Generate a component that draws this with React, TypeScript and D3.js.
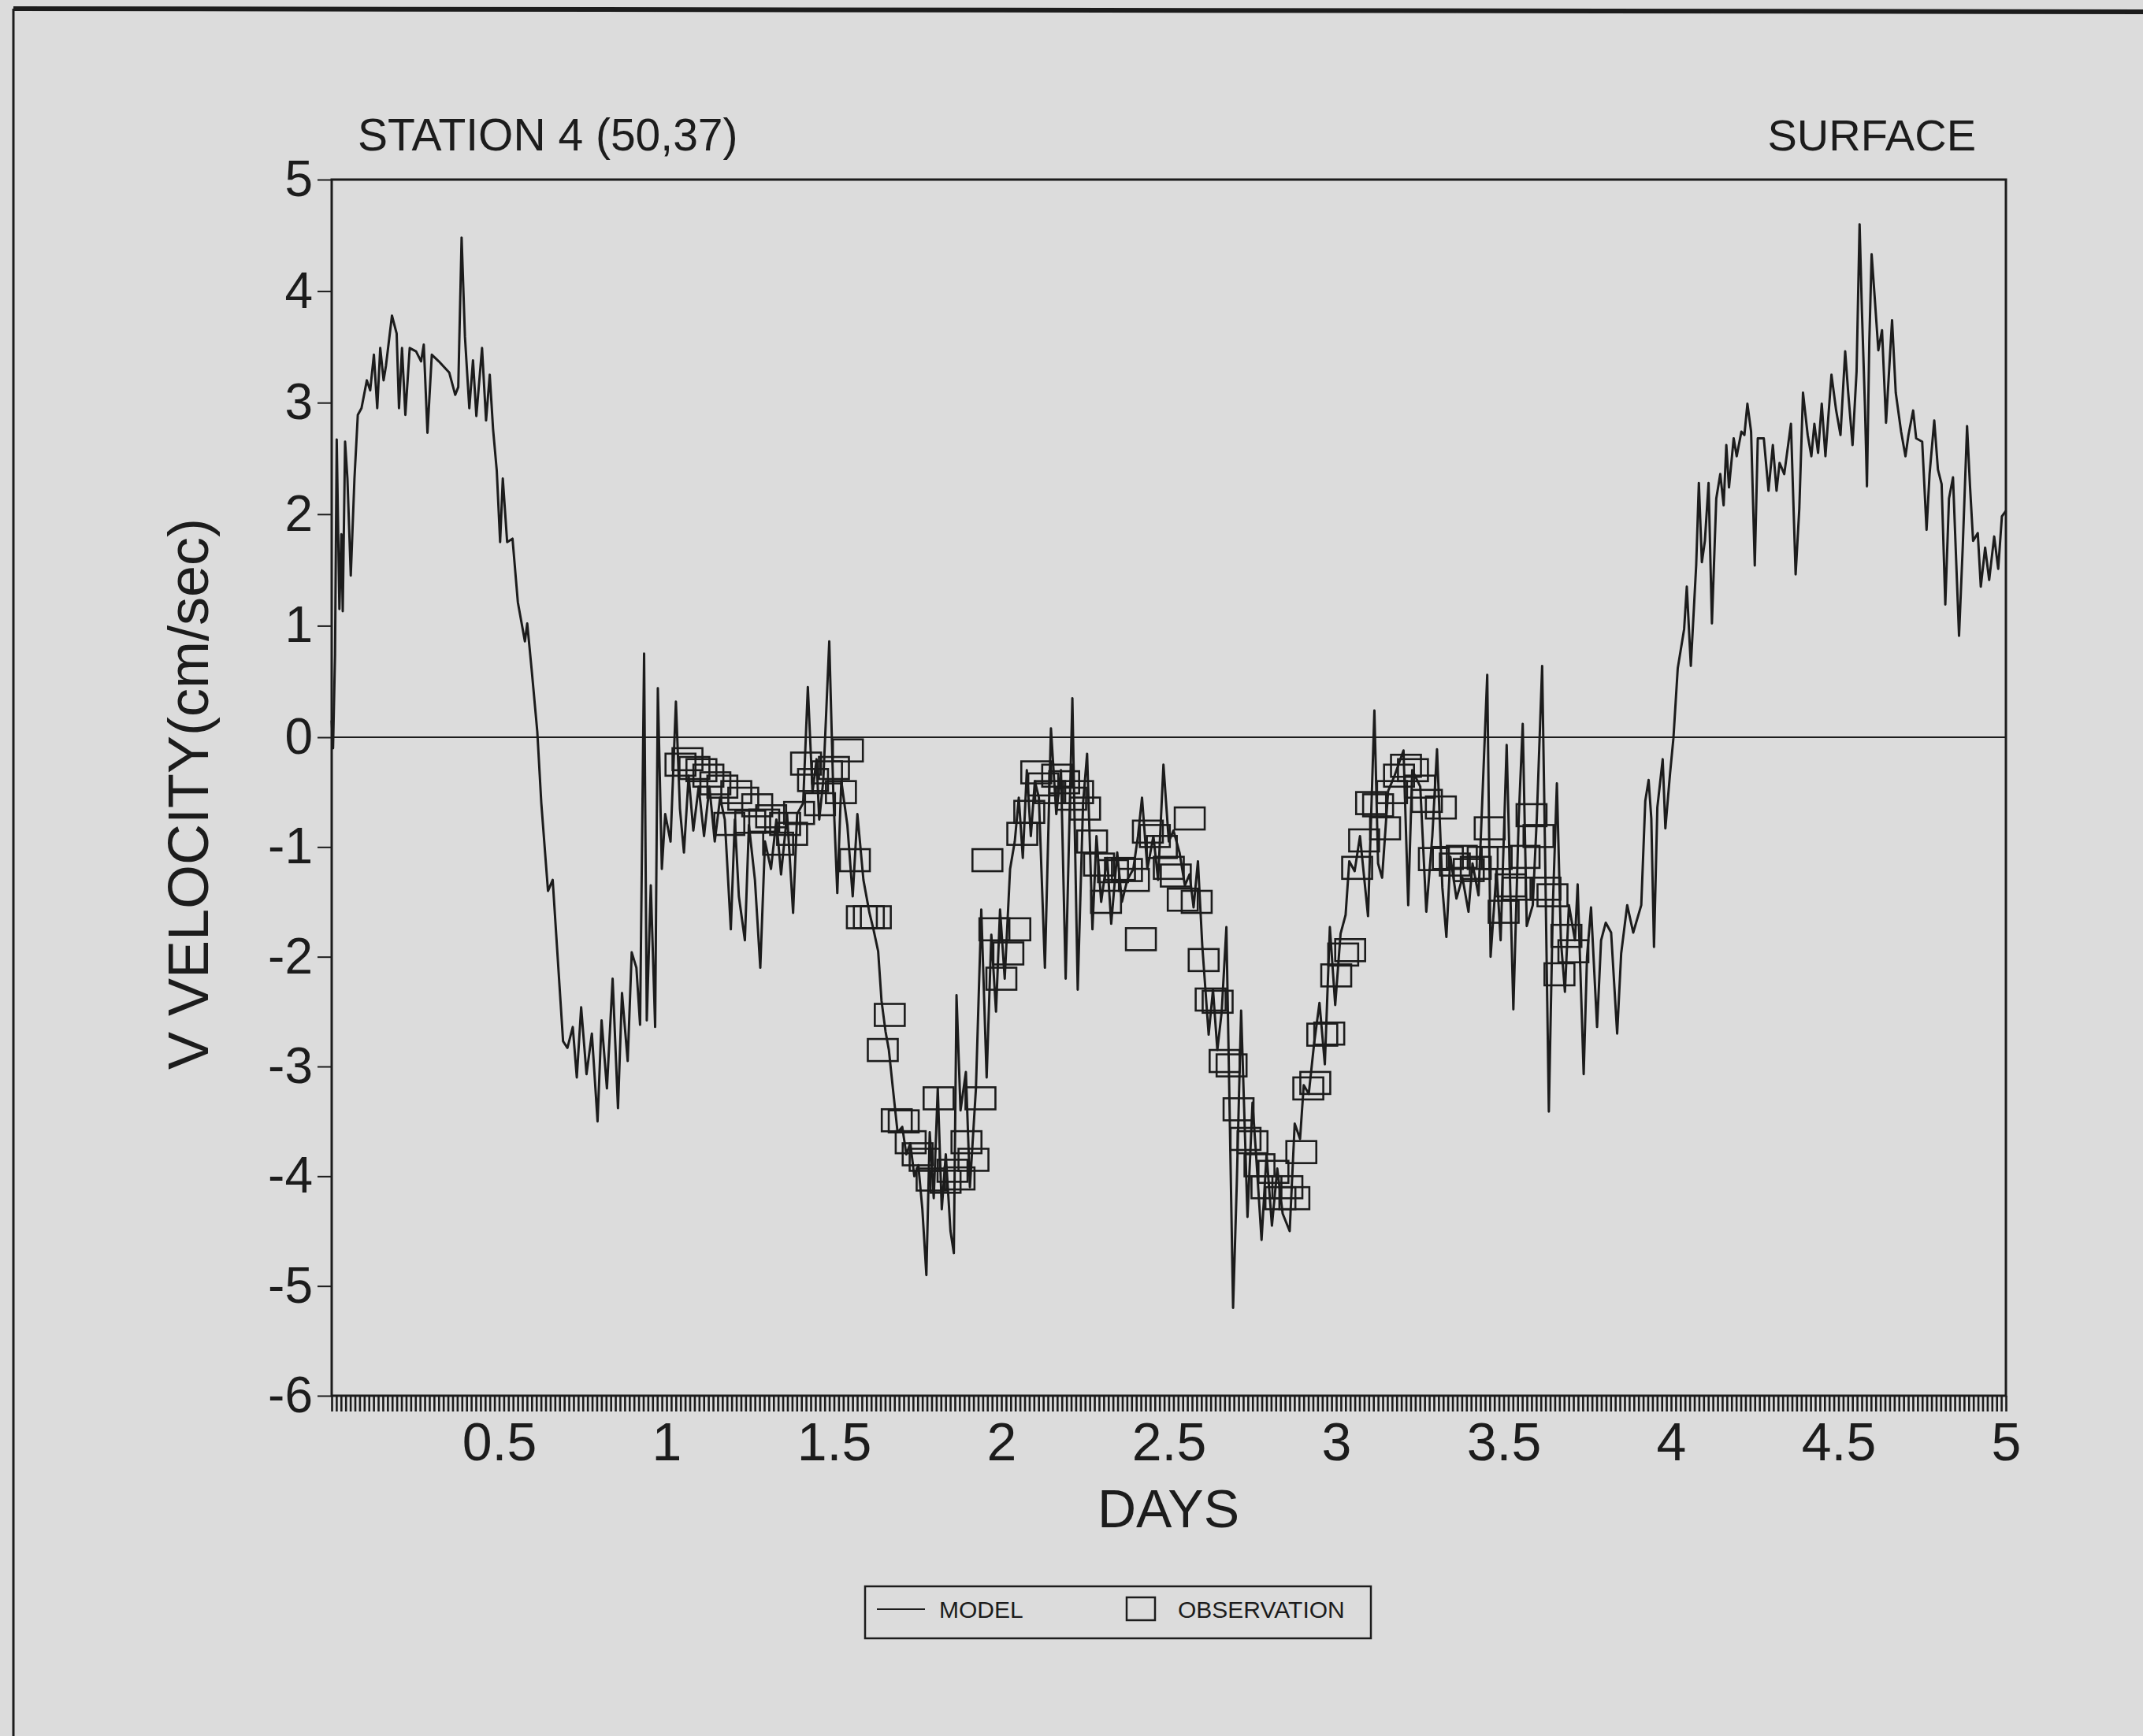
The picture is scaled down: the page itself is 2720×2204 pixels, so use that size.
import React, { useEffect, useRef } from "react";
import * as d3 from "d3";

// Model surface V velocity (cm/sec) at station 4, as [day, value]
const modelTrace: [number, number][] = [
  [0.0, 0.15], [0.004, -0.1], [0.01, 0.74], [0.015, 2.67], [0.023, 1.15], [0.029, 1.82], [0.033, 1.13],
  [0.04, 2.65], [0.047, 2.32], [0.057, 1.45], [0.068, 2.32], [0.078, 2.89], [0.089, 2.95], [0.105, 3.2],
  [0.115, 3.11], [0.126, 3.43], [0.136, 2.95], [0.145, 3.49], [0.155, 3.2], [0.162, 3.33], [0.18, 3.78],
  [0.194, 3.62], [0.201, 2.95], [0.21, 3.49], [0.22, 2.89], [0.233, 3.49], [0.252, 3.46], [0.267, 3.37],
  [0.275, 3.52], [0.286, 2.73], [0.299, 3.43], [0.32, 3.37], [0.351, 3.27], [0.369, 3.07], [0.378, 3.14],
  [0.388, 4.48], [0.398, 3.59], [0.411, 2.95], [0.422, 3.38], [0.432, 2.88], [0.449, 3.49], [0.461, 2.84],
  [0.472, 3.25], [0.482, 2.76], [0.493, 2.39], [0.503, 1.75], [0.511, 2.32], [0.524, 1.75], [0.54, 1.78],
  [0.556, 1.21], [0.577, 0.86], [0.584, 1.02], [0.598, 0.58], [0.614, 0.05], [0.626, -0.6], [0.646, -1.4],
  [0.66, -1.3], [0.679, -2.2], [0.691, -2.77], [0.704, -2.83], [0.72, -2.64], [0.732, -3.1], [0.745, -2.46],
  [0.761, -3.07], [0.777, -2.7], [0.794, -3.5], [0.806, -2.58], [0.822, -3.2], [0.839, -2.2], [0.855, -3.38],
  [0.867, -2.33], [0.884, -2.95], [0.896, -1.96], [0.91, -2.1], [0.921, -2.62], [0.933, 0.75], [0.941, -2.58],
  [0.953, -1.35], [0.966, -2.64], [0.974, 0.44], [0.986, -1.2], [0.996, -0.7], [1.012, -0.95], [1.028, 0.32], [1.04, -0.65],
  [1.052, -1.05], [1.066, -0.35], [1.08, -0.85], [1.096, -0.45], [1.112, -0.9], [1.128, -0.45], [1.144, -0.95],
  [1.16, -0.55], [1.174, -0.75], [1.192, -1.75], [1.204, -0.75], [1.216, -1.45], [1.234, -1.85], [1.246, -0.8],
  [1.264, -1.3], [1.28, -2.1], [1.294, -0.95], [1.312, -1.2], [1.328, -0.75], [1.342, -1.25], [1.36, -0.7],
  [1.378, -1.6], [1.39, -0.7], [1.408, -0.6], [1.422, 0.45], [1.436, -0.5], [1.448, -0.2], [1.456, -0.75],
  [1.468, -0.4], [1.486, 0.86], [1.498, -0.5], [1.51, -1.42], [1.522, -0.4], [1.54, -0.8], [1.556, -1.45],
  [1.57, -0.7], [1.588, -1.3], [1.606, -1.6], [1.618, -1.75], [1.632, -1.95], [1.642, -2.4], [1.654, -2.68],
  [1.664, -2.85], [1.676, -3.2], [1.69, -3.6], [1.704, -3.55], [1.716, -3.8], [1.728, -3.7], [1.74, -4.0],
  [1.752, -3.9], [1.764, -4.3], [1.776, -4.9], [1.786, -3.6], [1.798, -4.2], [1.81, -3.2], [1.822, -4.3],
  [1.834, -3.8], [1.848, -4.5], [1.858, -4.7], [1.866, -2.35], [1.878, -3.4], [1.894, -3.05], [1.906, -4.1],
  [1.924, -3.2], [1.94, -1.57], [1.956, -3.1], [1.97, -1.8], [1.984, -2.5], [1.996, -1.57], [2.01, -2.2],
  [2.026, -1.2], [2.04, -0.95], [2.052, -0.55], [2.064, -1.1], [2.076, -0.3], [2.088, -0.9], [2.1, -0.4],
  [2.112, -0.55], [2.13, -2.1], [2.148, 0.08], [2.164, -0.7], [2.178, -0.3], [2.192, -2.2], [2.212, 0.35],
  [2.228, -2.3], [2.244, -0.6], [2.256, -0.15], [2.272, -1.75], [2.284, -0.9], [2.298, -1.5], [2.316, -1.1],
  [2.328, -1.7], [2.346, -1.05], [2.36, -1.5], [2.376, -1.3], [2.394, -1.2], [2.408, -0.9], [2.42, -0.55],
  [2.436, -1.2], [2.454, -0.9], [2.468, -1.3], [2.484, -0.25], [2.5, -0.95], [2.514, -0.85], [2.532, -1.05],
  [2.548, -1.35], [2.562, -1.25], [2.574, -1.55], [2.587, -1.13], [2.6, -1.9], [2.619, -2.71], [2.632, -2.3],
  [2.645, -2.85], [2.658, -2.5], [2.672, -1.73], [2.68, -3.12], [2.692, -5.2], [2.703, -4.07], [2.716, -2.49],
  [2.735, -4.37], [2.75, -3.33], [2.761, -3.82], [2.777, -4.58], [2.792, -3.8], [2.808, -4.45], [2.824, -3.93],
  [2.84, -4.34], [2.861, -4.5], [2.876, -3.52], [2.892, -3.66], [2.903, -3.17], [2.918, -3.25], [2.934, -2.79],
  [2.95, -2.42], [2.966, -2.98], [2.981, -1.73], [2.997, -2.44], [3.013, -1.79], [3.028, -1.62], [3.039, -1.13],
  [3.055, -1.22], [3.071, -0.9], [3.095, -1.63], [3.107, -0.45], [3.114, 0.24], [3.125, -1.15], [3.137, -1.28],
  [3.155, -0.49], [3.173, -0.36], [3.201, -0.12], [3.215, -1.53], [3.227, -0.3], [3.251, -0.45], [3.269, -1.59],
  [3.287, -0.9], [3.301, -0.11], [3.317, -1.37], [3.329, -1.82], [3.341, -1.09], [3.359, -1.47], [3.377, -1.28],
  [3.395, -1.59], [3.407, -1.15], [3.425, -1.44], [3.451, 0.56], [3.461, -2.0], [3.479, -1.21], [3.491, -1.85],
  [3.509, -0.07], [3.521, -1.53], [3.529, -2.48], [3.545, -0.74], [3.557, 0.12], [3.569, -1.72], [3.587, -1.53],
  [3.599, -0.74], [3.615, 0.64], [3.623, -0.9], [3.635, -3.41], [3.647, -1.53], [3.659, -0.42], [3.671, -1.85],
  [3.683, -2.32], [3.695, -1.53], [3.713, -1.85], [3.721, -1.34], [3.739, -3.07], [3.749, -2.0], [3.761, -1.55],
  [3.779, -2.64], [3.791, -1.85], [3.805, -1.69], [3.821, -1.78], [3.839, -2.7], [3.851, -1.97], [3.869, -1.53],
  [3.887, -1.78], [3.911, -1.53], [3.923, -0.58], [3.933, -0.39], [3.941, -0.74], [3.949, -1.91], [3.959, -0.64],
  [3.975, -0.2], [3.983, -0.83], [3.997, -0.33], [4.007, -0.01], [4.02, 0.62], [4.039, 0.97], [4.047, 1.35],
  [4.059, 0.64], [4.075, 1.54], [4.083, 2.28], [4.092, 1.57], [4.101, 1.76], [4.112, 2.28], [4.122, 1.02],
  [4.135, 2.14], [4.147, 2.36], [4.157, 2.08], [4.165, 2.62], [4.173, 2.24], [4.187, 2.68], [4.196, 2.52],
  [4.21, 2.74], [4.219, 2.71], [4.228, 2.99], [4.239, 2.74], [4.25, 1.54], [4.259, 2.68], [4.277, 2.68],
  [4.291, 2.21], [4.304, 2.62], [4.315, 2.21], [4.324, 2.46], [4.338, 2.36], [4.358, 2.81], [4.372, 1.46],
  [4.383, 2.05], [4.394, 3.09], [4.408, 2.71], [4.419, 2.52], [4.428, 2.81], [4.439, 2.55], [4.45, 2.99],
  [4.461, 2.52], [4.479, 3.25], [4.493, 2.93], [4.506, 2.71], [4.52, 3.46], [4.529, 3.09], [4.542, 2.62],
  [4.554, 3.28], [4.563, 4.6], [4.57, 3.82], [4.579, 2.97], [4.585, 2.25], [4.592, 3.54], [4.599, 4.33],
  [4.608, 3.95], [4.619, 3.47], [4.63, 3.65], [4.642, 2.82], [4.66, 3.74], [4.671, 3.09], [4.687, 2.74],
  [4.7, 2.52], [4.709, 2.71], [4.723, 2.93], [4.732, 2.68], [4.75, 2.65], [4.763, 1.86], [4.772, 2.36],
  [4.786, 2.84], [4.797, 2.4], [4.808, 2.27], [4.819, 1.19], [4.83, 2.14], [4.842, 2.33], [4.86, 0.91],
  [4.871, 1.7], [4.884, 2.79], [4.893, 2.24], [4.902, 1.76], [4.916, 1.83], [4.925, 1.35], [4.938, 1.7],
  [4.95, 1.41], [4.965, 1.8], [4.977, 1.51], [4.988, 1.98], [5.0, 2.03],
];

// Observed half-hourly readings: hour since start, V velocity (cm/sec)
const obsHours: number[] = [
  25, 25.5, 26, 26.5, 27, 27.5, 28, 28.5, 29, 29.5, 30, 30.5, 31, 31.5, 32, 32.5, 33, 33.5, 34, 34.5,
  35, 35.5, 36, 36.5, 37, 37.5, 38, 38.5, 39, 39.5, 40, 40.5, 41, 41.5, 42, 42.5, 43, 43.5, 44, 44.5,
  45, 45.5, 46, 46.5, 47, 47.5, 48, 48.5, 49, 49.5, 50, 50.5, 51, 51.5, 52, 52.5, 53, 53.5, 54, 54.5,
  55, 55.5, 56, 56.5, 57, 57.5, 58, 58.5, 59, 59.5, 60, 60.5, 61, 61.5, 62, 62.5, 63, 63.5, 64, 64.5,
  65, 65.5, 66, 66.5, 67, 67.5, 68, 68.5, 69, 69.5, 70, 70.5, 71, 71.5, 72, 72.5, 73, 73.5, 74, 74.5,
  75, 75.5, 76, 76.5, 77, 77.5, 78, 78.5, 79, 79.5, 80, 80.5, 81, 81.5, 82, 82.5, 83, 83.5, 84, 84.5,
  85, 85.5, 86, 86.5, 87, 87.5, 88, 88.5, 89,
];
const obsValues: number[] = [
  -0.25, -0.2, -0.28, -0.3, -0.35, -0.42, -0.45, -0.79, -0.5, -0.56, -0.77, -0.62, -0.76, -0.72, -0.97, -0.79, -0.88, -0.69, -0.24, -0.39,
  -0.61, -0.32, -0.28, -0.5, -0.12, -1.12, -1.64, -1.64, -1.64, -2.85, -2.53, -3.49, -3.5, -3.69, -3.8, -3.85, -4.03, -3.29, -4.05, -3.95,
  -4.02, -3.69, -3.85, -3.29, -1.12, -1.75, -2.2, -1.97, -1.75, -0.88, -0.68, -0.32, -0.43, -0.5, -0.35, -0.41, -0.56, -0.5, -0.65, -0.95,
  -1.16, -1.5, -1.22, -1.2, -1.21, -1.3, -1.84, -0.86, -0.9, -1.0, -1.19, -1.26, -1.48, -0.74, -1.5, -2.03, -2.39, -2.41, -2.95, -2.99,
  -3.39, -3.66, -3.69, -3.9, -4.1, -3.96, -4.2, -4.1, -4.2, -3.78, -3.2, -3.15, -2.71, -2.7, -2.17, -1.98, -1.94, -1.19, -0.94, -0.6,
  -0.62, -0.83, -0.5, -0.35, -0.26, -0.3, -0.45, -0.58, -1.11, -0.64, -1.1, -1.16, -1.09, -1.21, -1.19, -1.1, -0.83, -1.1, -1.59, -1.35,
  -1.38, -1.09, -0.71, -0.9, -1.38, -1.44, -2.16, -1.81, -1.95,
];

const yTickValues: number[] = [5, 4, 3, 2, 1, 0, -1, -2, -3, -4, -5, -6];
const xLabelValues: number[] = [0.5, 1, 1.5, 2, 2.5, 3, 3.5, 4, 4.5, 5];
const minorTicksPerDay = 72;

const titleLeft = "STATION 4 (50,37)";
const titleRight = "SURFACE";
const xTitle = "DAYS";
const yTitle = "V VELOCITY(cm/sec)";
const legendItems = ["MODEL", "OBSERVATION"];

const W = 2720;
const H = 2204;
const plot = { left: 421, right: 2546, top: 228, bottom: 1772, zero: 936 };
const ink = "#1c1c1c";
const paper = "#dcdcdc";
const font = "'Liberation Sans', Arial, Helvetica, sans-serif";
const plain = (d: d3.NumberValue) => String(d);

export default function App() {
  const ref = useRef<SVGSVGElement | null>(null);

  useEffect(() => {
    const svg = d3.select(ref.current);
    svg.selectAll("*").remove();

    const x = d3.scaleLinear().domain([0, 5]).range([plot.left, plot.right]);
    const y = d3.scaleLinear().domain([-6, 0, 5]).range([plot.bottom, plot.zero, plot.top]);

    svg.append("rect").attr("width", W).attr("height", H).attr("fill", paper);

    // page frame
    svg.append("line").attr("x1", 17).attr("x2", W).attr("y1", 11).attr("y2", 15)
      .attr("stroke", ink).attr("stroke-width", 6);
    svg.append("line").attr("x1", 17).attr("x2", 17).attr("y1", 11).attr("y2", H)
      .attr("stroke", ink).attr("stroke-width", 3);

    // titles
    svg.append("text").attr("x", 454).attr("y", 191).attr("font-size", 57)
      .attr("font-family", font).attr("fill", ink).text(titleLeft);
    svg.append("text").attr("x", 2508).attr("y", 191).attr("font-size", 56)
      .attr("text-anchor", "end").attr("font-family", font).attr("fill", ink).text(titleRight);

    // minor day ticks along the bottom
    const minorValues = d3.range(0, 5 * minorTicksPerDay + 1).map((i) => i / minorTicksPerDay);
    const gx = svg.append("g").attr("transform", `translate(0,${plot.bottom})`)
      .call(d3.axisBottom(x).tickValues(minorValues).tickFormat(() => "").tickSizeInner(20).tickSizeOuter(0));
    gx.select(".domain").remove();
    gx.selectAll("line").attr("stroke", ink).attr("stroke-width", 2.6);

    const gxl = svg.append("g").attr("transform", `translate(0,${plot.bottom})`)
      .call(d3.axisBottom(x).tickValues(xLabelValues).tickFormat(plain).tickSize(0).tickPadding(34));
    gxl.select(".domain").remove();
    gxl.selectAll("text").attr("font-size", 68).attr("font-family", font).attr("fill", ink);

    const gy = svg.append("g").attr("transform", `translate(${plot.left},0)`)
      .call(d3.axisLeft(y).tickValues(yTickValues).tickFormat(plain).tickSizeInner(18).tickSizeOuter(0).tickPadding(6));
    gy.select(".domain").remove();
    gy.selectAll("line").attr("stroke", ink).attr("stroke-width", 2);
    gy.selectAll("text").attr("font-size", 64).attr("font-family", font).attr("fill", ink);

    // plot frame
    svg.append("rect").attr("x", plot.left).attr("y", plot.top)
      .attr("width", plot.right - plot.left).attr("height", plot.bottom - plot.top)
      .attr("fill", "none").attr("stroke", ink).attr("stroke-width", 3);

    // zero reference
    svg.append("line").attr("x1", plot.left).attr("x2", plot.right)
      .attr("y1", y(0)).attr("y2", y(0)).attr("stroke", ink).attr("stroke-width", 2);

    // axis titles
    svg.append("text").attr("x", 1483).attr("y", 1939).attr("text-anchor", "middle")
      .attr("font-size", 68).attr("font-family", font).attr("fill", ink).text(xTitle);
    svg.append("text").attr("transform", `translate(264,1008) rotate(-90)`).attr("text-anchor", "middle")
      .attr("font-size", 72).attr("font-family", font).attr("fill", ink).text(yTitle);

    // model line
    const line = d3.line<[number, number]>().x((d) => x(d[0])).y((d) => y(d[1]));
    svg.append("path").attr("d", line(modelTrace)).attr("fill", "none")
      .attr("stroke", ink).attr("stroke-width", 3).attr("stroke-linejoin", "round");

    // observation boxes
    const bw = 38, bh = 28;
    svg.append("g").selectAll("rect").data(obsHours.map((h, i) => [h / 24, obsValues[i]] as [number, number]))
      .join("rect")
      .attr("x", (d) => x(d[0]) - bw / 2).attr("y", (d) => y(d[1]) - bh / 2)
      .attr("width", bw).attr("height", bh)
      .attr("fill", "none").attr("stroke", ink).attr("stroke-width", 2.6);

    // legend
    const lg = svg.append("g");
    lg.append("rect").attr("x", 1098).attr("y", 2014).attr("width", 642).attr("height", 66)
      .attr("fill", "none").attr("stroke", ink).attr("stroke-width", 2.5);
    lg.append("line").attr("x1", 1113).attr("x2", 1174).attr("y1", 2043).attr("y2", 2043)
      .attr("stroke", ink).attr("stroke-width", 2);
    lg.append("text").attr("x", 1192).attr("y", 2054).attr("font-size", 30)
      .attr("font-family", font).attr("fill", ink).text(legendItems[0]);
    lg.append("rect").attr("x", 1430).attr("y", 2028).attr("width", 36).attr("height", 29)
      .attr("fill", "none").attr("stroke", ink).attr("stroke-width", 2.5);
    lg.append("text").attr("x", 1495).attr("y", 2054).attr("font-size", 30)
      .attr("font-family", font).attr("fill", ink).text(legendItems[1]);
  }, []);

  return (
    <svg
      ref={ref}
      width={W}
      height={H}
      viewBox={`0 0 ${W} ${H}`}
      style={{ position: "absolute", left: 0, top: 0, display: "block" }}
    />
  );
}
